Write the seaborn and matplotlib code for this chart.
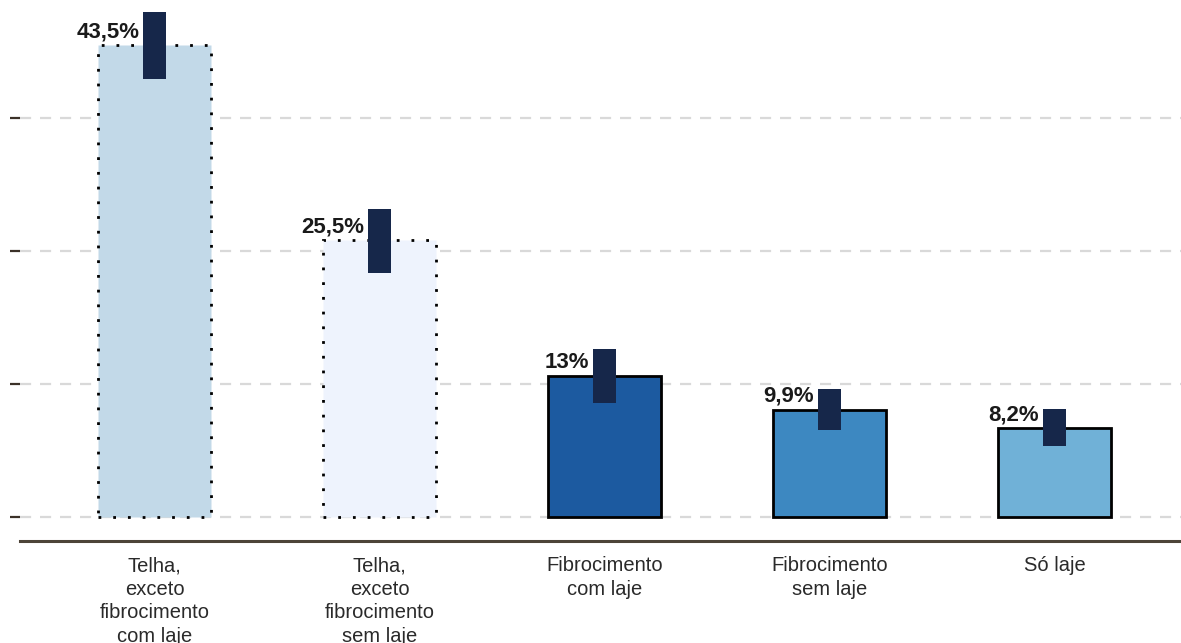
import matplotlib
matplotlib.use("Agg")
import matplotlib.pyplot as plt
import seaborn as sns
import pandas as pd

categories = ["Telha,\nexceto\nfibrocimento\ncom laje",
              "Telha,\nexceto\nfibrocimento\nsem laje",
              "Fibrocimento\ncom laje",
              "Fibrocimento\nsem laje",
              "Só laje"]
values = [43.5, 25.5, 13.0, 9.9, 8.2]
value_labels = ["43,5%", "25,5%", "13%", "9,9%", "8,2%"]
ci_low = [40.4, 22.5, 10.5, 8.0, 6.5]
ci_high = [46.5, 28.4, 15.5, 11.8, 10.0]
gridticks = [0, 12.25, 24.5, 36.75]

bar_colors = ["#c2d9e8", "#eef3fd", "#1c5aa0", "#3d88c1", "#70b1d7"]
dotted = [True, True, False, False, False]
navy = "#16274a"

sns.set_theme(style="white")
plt.rcParams['font.family'] = ['Liberation Sans', 'DejaVu Sans']

fig = plt.figure(figsize=(11.81, 6.43), dpi=100)
ax = fig.add_axes([20/1181, 102/643, 1161/1181, 541/643])

df = pd.DataFrame({"cat": categories, "val": values})
sns.barplot(data=df, x="cat", y="val", hue="cat", palette=bar_colors,
            legend=False, width=0.5, ax=ax, zorder=2, saturation=1)

for p, d in zip(ax.patches, dotted):
    p.set_edgecolor("black")
    p.set_linewidth(2)
    if d:
        p.set_linestyle((0, (1, 4.3)))

xs = list(range(len(categories)))
ax.bar(xs, [h - l for h, l in zip(ci_high, ci_low)], bottom=ci_low,
       width=0.102, color=navy, linewidth=0, edgecolor="none", zorder=3)

for x, v, lab in zip(xs, values, value_labels):
    ax.text(x - 0.068, v + 0.25, lab, ha="right", va="bottom",
            fontsize=16, fontweight="bold", color="#1a1a1a", zorder=4)

ax.set_xlim(-0.598, 4.562)
ax.set_ylim(-2.21, 47.65)
ax.set_yticks(gridticks)
ax.set_yticklabels([])
ax.yaxis.grid(True, linestyle=(0, (5, 4)), color="#d9d9d9", linewidth=1.6, zorder=0)
ax.set_axisbelow(True)
ax.tick_params(axis="y", which="both", left=True, length=7, width=1.6,
               color="#3b3128", direction="out")
ax.tick_params(axis="x", length=0, labelsize=14.5, pad=11, colors="#2a2a2a")
for lbl in ax.get_xticklabels():
    lbl.set_linespacing(1.3)
ax.set_xlabel("")
ax.set_ylabel("")
for s in ["top", "right", "left"]:
    ax.spines[s].set_visible(False)
ax.spines["bottom"].set_color("#4d4438")
ax.spines["bottom"].set_linewidth(2.2)

fig.savefig("out.png", dpi=100)
